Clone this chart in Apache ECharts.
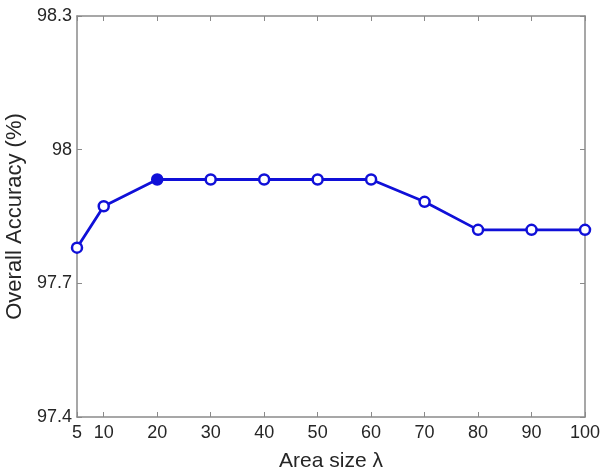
<!DOCTYPE html>
<html>
<head>
<meta charset="utf-8">
<script src="https://cdn.jsdelivr.net/npm/echarts@6/dist/echarts.min.js"></script>
<style>
html,body{margin:0;padding:0;background:#fff;}
#main{width:602px;height:470px;}
</style>
</head>
<body>
<div id="main"></div>
<script>
// area size values and accuracy
var areaSize = [5, 10, 20, 30, 40, 50, 60, 70, 80, 90, 100];
var accuracy = [97.780, 97.873, 97.933, 97.933, 97.933, 97.933, 97.933, 97.883, 97.820, 97.820, 97.820];
var xTicks = [5, 10, 20, 30, 40, 50, 60, 70, 80, 90, 100];
var yTicks = [97.4, 97.7, 98, 98.3];
var filledIdx = 2;

var chart = echarts.init(document.getElementById('main'));
var axisCol = '#8a8a8a';
var txtCol = '#262626';
var lineCol = '#1010d8';
var font = 'Liberation Sans';

var pts = areaSize.map(function (x, i) {
    var p = { value: [x, accuracy[i]] };
    if (i === filledIdx) p.itemStyle = { color: lineCol };
    return p;
});

function boxAxis(pos, ticks, showLabel) {
    return {
        type: 'value',
        position: pos,
        min: pos === 'left' || pos === 'right' ? 97.4 : 5,
        max: pos === 'left' || pos === 'right' ? 98.3 : 100,
        axisLine: { show: true, onZero: false, lineStyle: { color: axisCol, width: 1.5 } },
        axisTick: { show: true, inside: true, length: 5, customValues: ticks, lineStyle: { color: axisCol, width: 1 } },
        axisLabel: {
            show: showLabel, customValues: ticks, color: txtCol,
            fontFamily: font, fontSize: 18, margin: pos === 'bottom' ? 7 : 5
        },
        splitLine: { show: false }
    };
}

var xb = boxAxis('bottom', xTicks, true);
xb.name = 'Area size λ';
xb.nameLocation = 'middle';
xb.nameGap = 34;
xb.nameTextStyle = { color: txtCol, fontFamily: font, fontSize: 21 };
var xt = boxAxis('top', xTicks, false);

var yl = boxAxis('left', yTicks, true);
yl.name = 'Overall Accuracy (%)';
yl.nameLocation = 'middle';
yl.nameGap = 45;
yl.nameTextStyle = { color: txtCol, fontFamily: font, fontSize: 22 };
var yr = boxAxis('right', yTicks, false);

chart.setOption({
    animation: false,
    backgroundColor: '#fff',
    grid: { left: 77, right: 17, top: 16, bottom: 53, outerBoundsMode: 'none' },
    xAxis: [xb, xt],
    yAxis: [yl, yr],
    series: [{
        type: 'line',
        data: pts,
        symbol: 'circle',
        symbolSize: 10,
        showAllSymbol: true,
        lineStyle: { color: lineCol, width: 2.8 },
        itemStyle: { color: '#fff', borderColor: lineCol, borderWidth: 2.5 }
    }]
});
</script>
</body>
</html>
